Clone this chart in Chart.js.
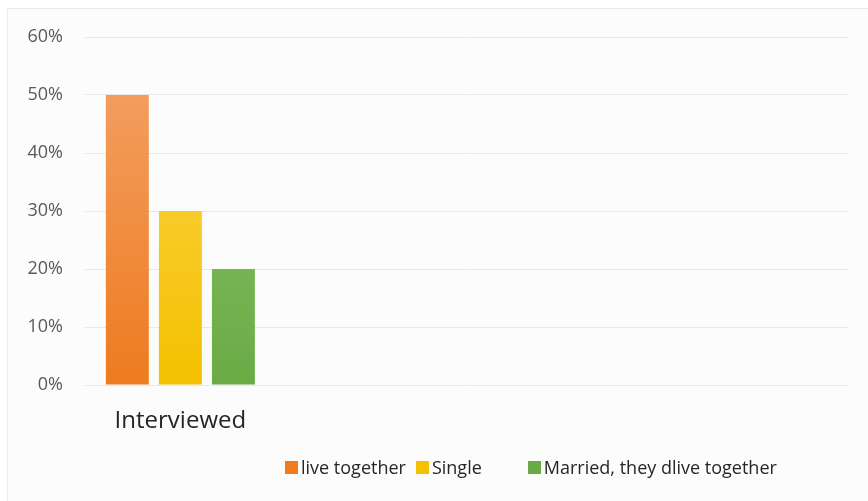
<!DOCTYPE html>
<html>
<head>
<meta charset="utf-8">
<script src="https://cdn.jsdelivr.net/npm/chart.js@4/dist/chart.umd.min.js"></script>
<style>
    html, body { margin: 0; padding: 0; background: #ffffff; }
    #panel {
        position: absolute; left: 7px; top: 8px; width: 861px; height: 493px;
        background: #fcfcfc; border-top: 1px solid #e8e8e8; border-left: 1px solid #ececec;
    }
    #wrap { position: absolute; left: 0; top: 0; width: 868px; height: 501px; }
    #legend {
        position: absolute; left: 285px; top: 455px;
        font-family: "Open Sans", sans-serif; font-size: 18px; color: #262626;
        display: flex; align-items: center; white-space: nowrap;
    }
    #legend .item { display: flex; align-items: center; margin-right: 10px; }
    #legend .item.wide { margin-right: 46px; }
    #legend .box { width: 13px; height: 13px; margin-right: 3px; }
</style>
</head>
<body>
<div id="panel"></div>
<div id="wrap"><canvas id="surveyChart" width="868" height="501"></canvas></div>
<div id="legend"></div>
<script>
// categories: only the first one holds values, the rest stay empty
const categories = ['Interviewed', '', '', ''];
const seriesNames = ['live together', 'Single', 'Married, they dlive together'];
const liveTogether = [50, null, null, null];
const single = [30, null, null, null];
const married = [20, null, null, null];
const yTicks = [0, 10, 20, 30, 40, 50, 60];

// top / bottom colours of each bar gradient
const gradientStops = [
    ['#f3a46a', '#ee7b1f'],
    ['#fdd553', '#f3c100'],
    ['#90c46f', '#6aab45']
];

function barGradient(i) {
    return function(ctx) {
        const chart = ctx.chart;
        const area = chart.chartArea;
        if (!area) return gradientStops[i][1];
        const g = chart.ctx.createLinearGradient(0, area.top, 0, area.bottom);
        g.addColorStop(0, gradientStops[i][0]);
        g.addColorStop(1, gradientStops[i][1]);
        return g;
    };
}

const seriesValues = [liveTogether, single, married];

const barData = {
    labels: categories,
    datasets: seriesValues.map(function(values, i) {
        return {
            label: seriesNames[i],
            data: values,
            backgroundColor: barGradient(i),
            legendColor: gradientStops[i][1],
            borderWidth: 0,
            barPercentage: 0.81,
            categoryPercentage: 0.834
        };
    })
};

const barConfig = {
    type: 'bar',
    data: barData,
    options: {
        responsive: false,
        animation: false,
        layout: { padding: { top: 37, right: 20, left: 0, bottom: 0 } },
        plugins: {
            legend: { display: false },
            tooltip: { enabled: false }
        },
        scales: {
            x: {
                grid: { display: false },
                border: { display: false },
                ticks: {
                    color: '#262626',
                    padding: 14,
                    font: { family: 'Open Sans', size: 24 }
                },
                afterFit: function(scale) { scale.height = 116; }
            },
            y: {
                min: 0,
                max: 60,
                afterBuildTicks: function(scale) {
                    scale.ticks = yTicks.map(function(v) { return { value: v }; });
                },
                grid: { color: '#e8e8e8', lineWidth: 1, drawTicks: false },
                border: { display: false },
                ticks: {
                    color: '#595959',
                    padding: 22,
                    font: { family: 'Open Sans', size: 18 },
                    callback: function(v) { return v + '%'; }
                },
                afterFit: function(scale) { scale.width = 85; }
            }
        }
    }
};

const surveyChart = new Chart(document.getElementById('surveyChart'), barConfig);

// HTML legend built from the datasets
const legendEl = document.getElementById('legend');
surveyChart.data.datasets.forEach(function(ds, i) {
    const item = document.createElement('div');
    item.className = 'item' + (i === 1 ? ' wide' : '');
    const box = document.createElement('span');
    box.className = 'box';
    box.style.background = ds.legendColor;
    const txt = document.createElement('span');
    txt.textContent = ds.label;
    item.appendChild(box);
    item.appendChild(txt);
    legendEl.appendChild(item);
});
</script>
</body>
</html>
